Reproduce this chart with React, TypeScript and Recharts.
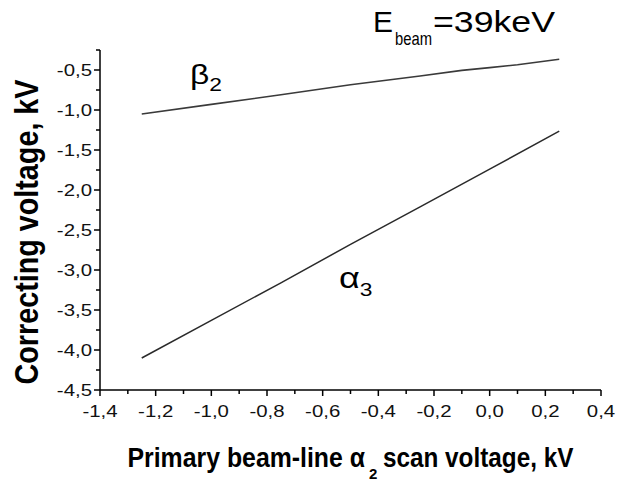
import { LineChart, Line, XAxis, YAxis } from "recharts";

// beta_2 correction curve
const betaX = [-1.25, -1.0, -0.75, -0.5, -0.25, -0.1, 0.0, 0.1, 0.25];
const betaY = [-1.05, -0.93, -0.81, -0.685, -0.575, -0.505, -0.47, -0.435, -0.365];

// alpha_3 correction line
const alphaX = [-1.25, -1.0, -0.75, -0.5, -0.25, 0.0, 0.25];
const alphaY = [-4.1, -3.63, -3.16, -2.68, -2.21, -1.74, -1.265];

const xMajor = [-1.4, -1.2, -1.0, -0.8, -0.6, -0.4, -0.2, 0.0, 0.2, 0.4];
const xMinor = [-1.3, -1.1, -0.9, -0.7, -0.5, -0.3, -0.1, 0.1, 0.3];
const yMajor = [-4.5, -4.0, -3.5, -3.0, -2.5, -2.0, -1.5, -1.0, -0.5];
const yMinor = [-4.25, -3.75, -3.25, -2.75, -2.25, -1.75, -1.25, -0.75, -0.25];

const betaData = betaX.map((x, i) => ({ x, y: betaY[i] }));
const alphaData = alphaX.map((x, i) => ({ x, y: alphaY[i] }));

const xTicks = [...xMajor, ...xMinor].sort((a, b) => a - b);
const yTicks = [...yMajor, ...yMinor].sort((a, b) => a - b);

const isIn = (arr: number[], v: number) => arr.some((a) => Math.abs(a - v) < 1e-6);
const fmt = (v: number) => v.toFixed(1).replace(".", ",");

const FONT = "Arial, 'Liberation Sans', sans-serif";
// the source picture is stretched horizontally, so text is widened a bit
const SX = 1.2;

const XTick = ({ x, y, payload }: any) => {
  const major = isIn(xMajor, payload.value);
  return (
    <g>
      <line x1={x} x2={x} y1={y} y2={y + (major ? 6 : 4)} stroke="#000" strokeWidth={1.5} />
      {major && (
        <text
          transform={`translate(${x},${y + 27}) scale(${SX},1)`}
          textAnchor="middle"
          fontFamily={FONT}
          fontSize={17}
          fill="#111"
        >
          {fmt(payload.value)}
        </text>
      )}
    </g>
  );
};

const YTick = ({ x, y, payload }: any) => {
  const major = isIn(yMajor, payload.value);
  return (
    <g>
      <line x1={x} x2={x - (major ? 6 : 4)} y1={y} y2={y} stroke="#000" strokeWidth={1.5} />
      {major && (
        <text
          transform={`translate(${x - 8},${y}) scale(${SX},1)`}
          textAnchor="end"
          dy="0.35em"
          fontFamily={FONT}
          fontSize={17}
          fill="#111"
        >
          {fmt(payload.value)}
        </text>
      )}
    </g>
  );
};

export default function App() {
  return (
    <div style={{ position: "absolute", left: 0, top: 0, width: 634, height: 483, background: "#fff" }}>
      <LineChart width={634} height={483} margin={{ top: 50, right: 33, bottom: 0, left: 0 }}>
        <XAxis
          type="number"
          dataKey="x"
          domain={[-1.4, 0.4]}
          ticks={xTicks}
          interval={0}
          tickSize={0}
          tickMargin={0}
          tickLine={false}
          tick={<XTick />}
          height={93}
          axisLine={{ stroke: "#000", strokeWidth: 1.5 }}
          allowDataOverflow
        />
        <YAxis
          type="number"
          dataKey="y"
          domain={[-4.5, -0.25]}
          ticks={yTicks}
          interval={0}
          tickSize={0}
          tickMargin={0}
          tickLine={false}
          tick={<YTick />}
          width={100}
          axisLine={{ stroke: "#000", strokeWidth: 1.5 }}
          allowDataOverflow
        />
        <Line
          data={betaData}
          dataKey="y"
          type="linear"
          stroke="#3a3a3a"
          strokeWidth={1.6}
          dot={false}
          isAnimationActive={false}
        />
        <Line
          data={alphaData}
          dataKey="y"
          type="linear"
          stroke="#2a2a2a"
          strokeWidth={1.5}
          dot={false}
          isAnimationActive={false}
        />
      </LineChart>

      <svg
        width={634}
        height={483}
        style={{ position: "absolute", left: 0, top: 0, pointerEvents: "none" }}
      >
        {/* y-axis title */}
        <text
          transform={`translate(38,232) scale(${SX},1) rotate(-90)`}
          textAnchor="middle"
          fontFamily={FONT}
          fontWeight="bold"
          fontSize={28}
          textLength={305}
          lengthAdjust="spacingAndGlyphs"
          fill="#000"
        >
          Correcting voltage, kV
        </text>

        {/* x-axis title, split in three so the subscript sits cleanly */}
        <text
          transform="translate(365,467) scale(0.92,1)"
          textAnchor="end"
          fontFamily={FONT}
          fontWeight="bold"
          fontSize={27}
          fill="#000"
        >
          Primary beam-line α
        </text>
        <text x={369} y={479} fontFamily={FONT} fontWeight="bold" fontSize={15} fill="#000">
          2
        </text>
        <text
          transform="translate(383,467) scale(0.9,1)"
          fontFamily={FONT}
          fontWeight="bold"
          fontSize={27}
          fill="#000"
        >
          scan voltage, kV
        </text>

        {/* beam energy */}
        <text x={373} y={32} fontFamily={FONT} fontSize={30} textLength={20} lengthAdjust="spacingAndGlyphs" fill="#000">
          E
        </text>
        <text x={395} y={45} fontFamily={FONT} fontSize={19} textLength={37} lengthAdjust="spacingAndGlyphs" fill="#000">
          beam
        </text>
        <text x={433} y={32} fontFamily={FONT} fontSize={30} textLength={122} lengthAdjust="spacingAndGlyphs" fill="#000">
          =39keV
        </text>

        {/* curve labels */}
        <text transform={`translate(190,84) scale(${SX},1)`} fontFamily={FONT} fontSize={28} fill="#000">
          β<tspan fontSize={19} dy={7}>2</tspan>
        </text>
        <text transform={`translate(339,288) scale(${SX},1)`} fontFamily={FONT} fontSize={30} fill="#000">
          α<tspan fontSize={19} dy={8}>3</tspan>
        </text>
      </svg>
    </div>
  );
}
